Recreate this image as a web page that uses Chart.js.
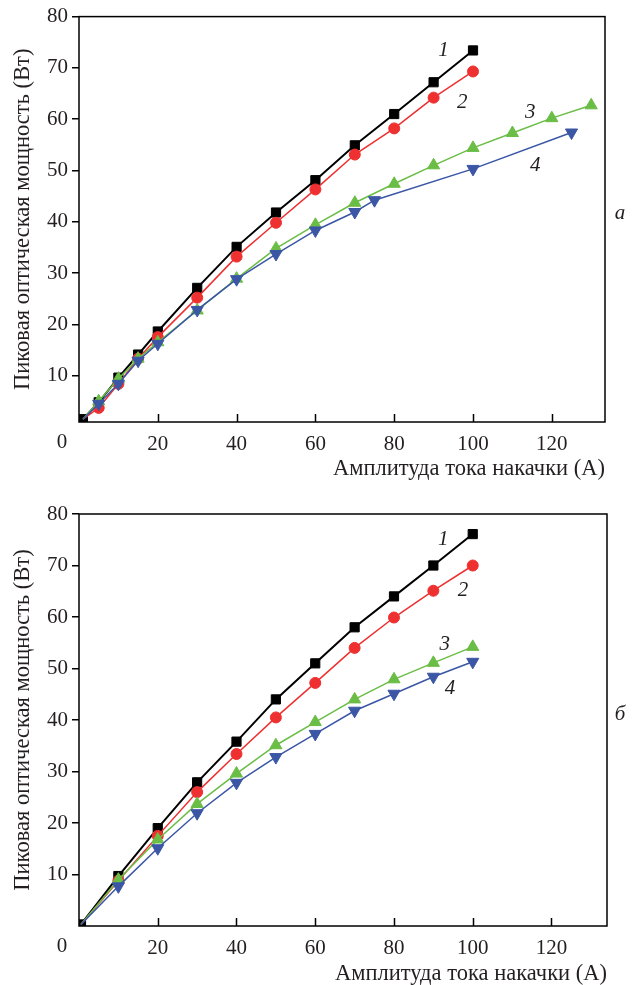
<!DOCTYPE html>
<html>
<head>
<meta charset="utf-8">
<script src="https://cdn.jsdelivr.net/npm/chart.js@4"></script>
<style>
  body { margin: 0; background: #fff; }
  canvas { display: block; }
</style>
</head>
<body>
<canvas id="chartA" width="638" height="492"></canvas>
<canvas id="chartB" width="638" height="493"></canvas>
<script>
// Panel "а" data (current in A, power in W)
const aX1 = [1, 5, 10, 15, 20, 30, 40, 50, 60, 70, 80, 90, 100];
const aY1 = [1.5, 4.8, 9.6, 14.1, 18.6, 27.1, 35.1, 41.8, 48.1, 54.9, 61.0, 67.2, 73.4];
const aX2 = [1, 5, 10, 15, 20, 30, 40, 50, 60, 70, 80, 90, 100];
const aY2 = [1.5, 3.7, 8.4, 13.3, 17.5, 25.2, 33.2, 39.8, 46.3, 53.1, 58.2, 64.2, 69.3];
const aX3 = [1, 5, 10, 15, 20, 30, 40, 50, 60, 70, 80, 90, 100, 110, 120, 130];
const aY3 = [1.5, 5.0, 9.4, 13.3, 16.5, 22.7, 28.9, 34.8, 39.4, 43.7, 47.4, 51.0, 54.4, 57.3, 60.2, 62.7];
const aX4 = [1, 5, 10, 15, 20, 30, 40, 50, 60, 70, 75, 100, 125];
const aY4 = [1.5, 4.5, 8.4, 12.9, 16.2, 22.8, 28.8, 33.7, 38.3, 41.9, 44.2, 50.3, 57.4];

// Panel "б" data
const bX = [0.5, 10, 20, 30, 40, 50, 60, 70, 80, 90, 100];
const bY1 = [0.3, 9.7, 19.0, 27.9, 35.8, 44.0, 51.0, 58.0, 64.0, 70.0, 76.1];
const bY2 = [0.3, 8.8, 17.5, 26.0, 33.4, 40.5, 47.2, 54.0, 59.9, 65.1, 70.0];
const bY3 = [0.3, 9.0, 16.8, 23.7, 29.6, 35.1, 39.6, 44.0, 47.9, 51.1, 54.2];
const bY4 = [0.3, 7.7, 15.1, 21.9, 27.8, 32.8, 37.3, 41.8, 45.1, 48.4, 51.3];

const xTicks = [20, 40, 60, 80, 100, 120];
const yTicks = [10, 20, 30, 40, 50, 60, 70, 80];
const xTitle = 'Амплитуда тока накачки (А)';
const yTitle = 'Пиковая оптическая мощность (Вт)';
const seriesNames = ['1', '2', '3', '4'];
// where the curve numbers sit, in data units
const aNamePos = [[92.5, 73.3], [97.3, 63.2], [114.5, 61.3], [115.8, 51.0]];
const bNamePos = [[92.5, 75.0], [97.5, 65.1], [92.9, 54.7], [94.2, 46.1]];

const FONT = 'Liberation Serif, Times New Roman, serif';
const TEXT = '#231f20';

const styles = [
    {color: '#000000', pointStyle: 'rect', radius: 6.5, width: 2, rotation: 0, order: 4},
    {color: '#ee3030', pointStyle: 'circle', radius: 5.5, width: 1.5, rotation: 0, order: 3},
    {color: '#6abd45', pointStyle: 'triangle', radius: 7, width: 1.5, rotation: 0, order: 2},
    {color: '#3a56a5', pointStyle: 'triangle', radius: 7, width: 1.5, rotation: 180, order: 1}
];

function zip(xs, ys) {
    return xs.map(function (x, i) { return {x: x, y: ys[i]}; });
}

function makeDatasets(pairs) {
    return pairs.map(function (data, i) {
        let s = styles[i];
        return {
            label: seriesNames[i],
            data: data,
            borderColor: s.color,
            backgroundColor: s.color,
            borderWidth: s.width,
            pointStyle: s.pointStyle,
            pointRotation: s.rotation,
            pointBorderWidth: 1,
            // only the black curve shows a marker at the origin
            pointRadius: function (ctx) { return (i > 0 && ctx.dataIndex === 0) ? 0 : s.radius; },
            tension: 0,
            order: s.order
        };
    });
}

//Frame, inward x ticks, corner "0", curve numbers and panel letter.
const decorations = {
    id: 'decorations',
    afterDraw(chart, args, opts) {
        const ctx = chart.ctx;
        const a = chart.chartArea;
        const xs = chart.scales.x, ys = chart.scales.y;
        ctx.save();
        ctx.strokeStyle = '#000';
        ctx.lineWidth = 1.5;
        ctx.strokeRect(a.left, a.top, a.right - a.left, a.bottom - a.top);
        ctx.beginPath();
        xTicks.forEach(function (v) {
            let px = Math.round(xs.getPixelForValue(v)) + 0.5;
            ctx.moveTo(px, a.bottom);
            ctx.lineTo(px, a.bottom - 8);
        });
        ctx.stroke();

        ctx.fillStyle = TEXT;
        ctx.textAlign = 'center';
        ctx.textBaseline = 'middle';
        ctx.font = '21px ' + FONT;
        ctx.fillText('0', 62, a.bottom + 20);

        ctx.font = 'italic 21px ' + FONT;
        opts.names.forEach(function (p, i) {
            ctx.fillText(seriesNames[i], xs.getPixelForValue(p[0]), ys.getPixelForValue(p[1]));
        });
        ctx.fillText(opts.letter, 620, (a.top + a.bottom) / 2 - 6);
        ctx.restore();
    }
};

function makeChart(id, pairs, cfg) {
    const tickFont = {family: FONT, size: 21};
    const titleFont = {family: FONT, size: 22.5, lineHeight: 1};
    return new Chart(document.getElementById(id).getContext('2d'), {
        type: 'line',
        data: {datasets: makeDatasets(pairs)},
        plugins: [decorations],
        options: {
            responsive: false,
            animation: false,
            layout: {padding: {left: 0, right: cfg.right, top: cfg.top, bottom: 0}},
            plugins: {
                legend: {display: false},
                tooltip: {enabled: false},
                decorations: {names: cfg.names, letter: cfg.letter}
            },
            scales: {
                x: {
                    type: 'linear',
                    min: 0,
                    max: cfg.xMax,
                    afterBuildTicks: function (s) { s.ticks = xTicks.map(function (v) { return {value: v}; }); },
                    afterFit: function (s) { s.height = cfg.xHeight; },
                    grid: {display: false},
                    border: {display: false},
                    ticks: {font: tickFont, color: TEXT, padding: 2, maxRotation: 0, autoSkip: false},
                    title: {
                        display: true, text: xTitle, align: 'end', color: TEXT,
                        font: titleFont,
                        padding: {top: 0, bottom: cfg.xTitlePad}
                    }
                },
                y: {
                    type: 'linear',
                    min: cfg.yMin,
                    max: 80,
                    afterBuildTicks: function (s) { s.ticks = yTicks.map(function (v) { return {value: v}; }); },
                    afterFit: function (s) { s.width = 79; },
                    grid: {drawOnChartArea: false, drawTicks: true, tickLength: 7, color: '#000', lineWidth: 1.5},
                    border: {display: false},
                    ticks: {font: tickFont, color: TEXT, padding: 4},
                    title: {
                        display: true, text: yTitle, color: TEXT,
                        font: titleFont,
                        padding: {top: 12, bottom: 0}
                    }
                }
            }
        }
    });
}

window.onload = function () {
    makeChart('chartA',
        [zip(aX1, aY1), zip(aX2, aY2), zip(aX3, aY3), zip(aX4, aY4)],
        {xMax: 133.5, yMin: 0.95, right: 33, top: 13, xHeight: 70, xTitlePad: 12, names: aNamePos, letter: 'а'});
    makeChart('chartB',
        [zip(bX, bY1), zip(bX, bY2), zip(bX, bY3), zip(bX, bY4)],
        {xMax: 134.1, yMin: 0, right: 31, top: 22, xHeight: 59, xTitlePad: 0, names: bNamePos, letter: 'б'});
};
</script>
</body>
</html>
